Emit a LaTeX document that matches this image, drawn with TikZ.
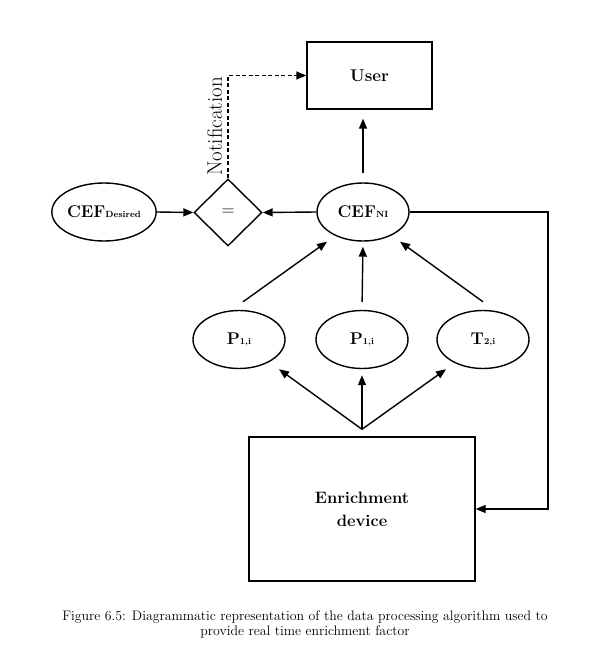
\documentclass[tikz,border=0pt]{standalone}
\usepackage{fontspec}
\usetikzlibrary{shapes.geometric,arrows.meta,calc}
\newcommand\sbx[1]{{\fontsize{9}{12}\selectfont #1}}
\begin{document}
\begin{tikzpicture}[x=1pt,y=-1pt,
  every node/.style={font=\fontsize{17}{20}\selectfont\bfseries},
  ell/.style={draw,ellipse,line width=1.4pt,minimum width=92pt,minimum height=58pt,inner sep=0pt},
  boxnode/.style={draw,rectangle,line width=1.4pt,inner sep=0pt},
  arr/.style={line width=1.4pt,-{Triangle[length=10pt,width=8pt]}},
  dasharr/.style={arr,dash pattern=on 4pt off 2.5pt}]
\useasboundingbox (0,0) rectangle (610,645);
\node[boxnode,minimum width=125pt,minimum height=67pt] (user) at (369.5,75.5) {User};
\node[ell] (des) at (104,212) {CEF\sbx{Desired}};
\node[draw,diamond,line width=1.4pt,minimum width=68pt,minimum height=67pt,inner sep=0pt,
      font=\fontsize{18}{20}\selectfont] (eq) at (228,212.5) {=};
\node[ell] (ni) at (363,212) {CEF\sbx{NI}};
\node[ell] (p1) at (239,339.5) {P\sbx{1,i}};
\node[ell] (p2) at (362,339.5) {P\sbx{1,i}};
\node[ell] (t2) at (483,339.5) {T\sbx{2,i}};
\node[boxnode,minimum width=226pt,minimum height=144pt,align=center,
      font=\fontsize{16.5}{23}\selectfont\bfseries] (dev) at (362,509) {Enrichment\\device};
\node[font=\fontsize{21}{24}\selectfont,rotate=90] (notif) at (214.5,126.5) {Notification};
\node[font=\fontsize{13.8}{15}\selectfont,align=center] (cap) at (305,624)
  {Figure 6.5: Diagrammatic representation of the data processing algorithm used to\\provide real time enrichment factor};
% connectors
\draw[arr] (des.east) -- (eq.west);
\draw[arr] (ni.west) -- (eq.east);
\draw[dasharr] (eq.north) |- (user.west);
\draw[arr,shorten <=9pt,shorten >=9pt] (ni.north) -- (ni.north |- user.south);
\draw[arr] ($(p1.north)+(4,-8)$) -- ($(ni.south)+(-36,0)$);
\draw[arr,shorten <=8pt,shorten >=5pt] (p2.north) -- (ni.south);
\draw[arr] ($(t2.north)+(0,-8)$) -- ($(ni.south)+(37,0)$);
\coordinate (fork) at ($(dev.north)+(0,-7)$);
\draw[arr] (fork) -- ($(p1.south)+(40,0)$);
\draw[arr,shorten >=6pt] (fork) -- (p2.south);
\draw[arr] (fork) -- ($(t2.south)+(-37,0)$);
\coordinate (rc) at (548,212);
\draw[arr] (ni.east) -- (rc) |- (dev.east);
\end{tikzpicture}
\end{document}
